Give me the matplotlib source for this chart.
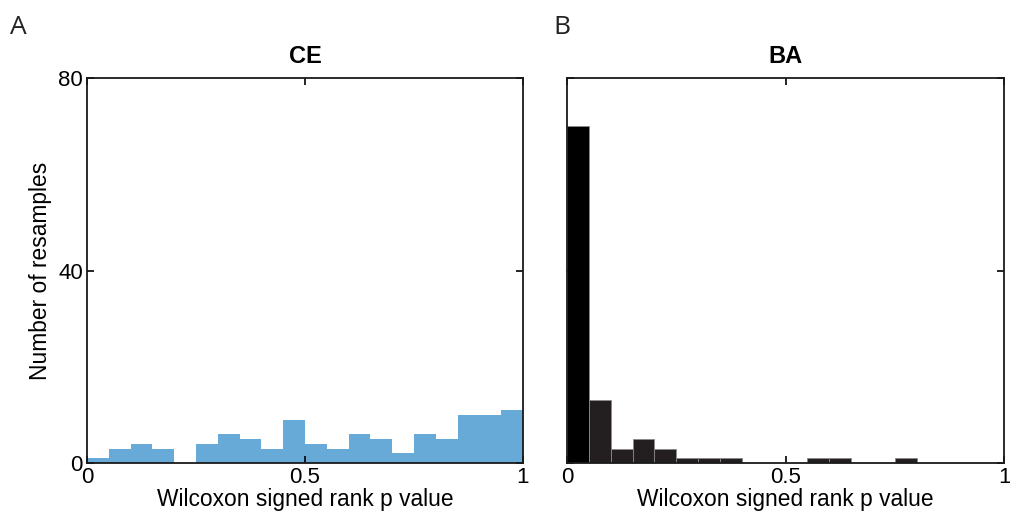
import numpy as np
import matplotlib.pyplot as plt

plt.rcParams['font.family'] = ['Liberation Sans', 'DejaVu Sans']

# Histogram data: 20 bins between 0 and 1
bin_edges = np.linspace(0, 1, 21)
ce_counts = [1, 3, 4, 3, 0, 4, 6, 5, 3, 9, 4, 3, 6, 5, 2, 6, 5, 10, 10, 11]
ba_counts = [70, 13, 3, 5, 3, 1, 1, 1, 0, 0, 0, 1, 1, 0, 0, 1, 0, 0, 0, 0]

x_ticks = [0, 0.5, 1]
x_ticklabels = ['0', '0.5', '1']
y_ticks = [0, 40, 80]

ce_color = '#68aad7'
ba_color = '#231f20'

fig = plt.figure(figsize=(10.1, 5.22), dpi=100)
ax1 = fig.add_axes([0.0861, 0.113, 0.4317, 0.7375])
ax2 = fig.add_axes([0.5614, 0.113, 0.4327, 0.7375])

width = np.diff(bin_edges)
ax1.bar(bin_edges[:-1], ce_counts, width=width, align='edge', color=ce_color, linewidth=0)
ba_colors = ['black'] + [ba_color] * (len(ba_counts) - 1)
ax2.bar(bin_edges[:-1], ba_counts, width=width, align='edge', color=ba_colors,
        edgecolor='#8a8a8a', linewidth=0.6)

for ax, title in [(ax1, 'CE'), (ax2, 'BA')]:
    ax.set_xlim(0, 1)
    ax.set_ylim(0, 80)
    ax.set_xticks(x_ticks)
    ax.set_xticklabels(x_ticklabels)
    ax.set_yticks(y_ticks)
    ax.tick_params(direction='in', top=True, right=True, labelsize=16, length=5, width=1.2, pad=3)
    for s in ax.spines.values():
        s.set_linewidth(1.3)
        s.set_color('#1a1a1a')
    ax.set_title(title, fontsize=17, fontweight='bold', pad=11)
    ax.set_xlabel('Wilcoxon signed rank p value', fontsize=16.4, labelpad=0)

ax1.set_ylabel('Number of resamples', fontsize=16.4, labelpad=4)
ax2.set_yticklabels([])

fig.text(0.010, 0.935, 'A', fontsize=19, family='Open Sans', color='#222222')
fig.text(0.548, 0.935, 'B', fontsize=19, family='Open Sans', color='#222222')

fig.savefig('out.png', dpi=100)
